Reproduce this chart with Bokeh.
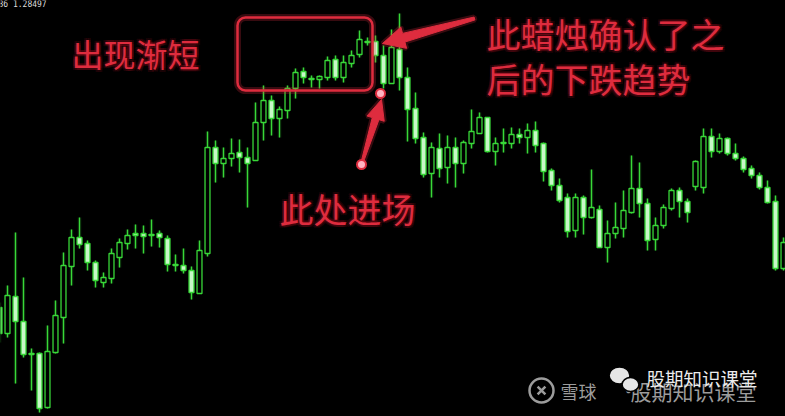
import numpy as np
from bokeh.plotting import figure
from bokeh.models import Range1d, BoxAnnotation
from bokeh.core.properties import value
from bokeh.embed import file_html
from bokeh.resources import INLINE

# ---- candle data (price points) ----
opens = [109, 83, 120, 95, 63, 63, 9, 64, 99, 150,
         179, 173, 154, 134, 138, 159, 173, 183, 183, 182,
         183, 178, 152, 151, 146, 123, 163, 269, 253, 258,
         264, 259, 256, 294, 316, 298, 306, 328, 345, 338,
         337, 339, 357, 339, 353, 362, 375, 375, 361, 333,
         367, 339, 308, 279, 243, 268, 249, 269, 253, 273,
         283, 299, 265, 274, 273, 282, 279, 286, 273, 246,
         231, 219, 186, 219, 199, 207, 169, 183, 188, 204,
         228, 213, 177, 191, 208, 226, 215, 230, 229, 280,
         265, 278, 263, 258, 248, 241, 229, 215, 148]
highs = [114, 131, 184, 139, 68, 64, 91, 116, 164, 187,
         199, 176, 156, 144, 168, 178, 187, 192, 191, 197,
         186, 181, 162, 168, 150, 176, 285, 276, 269, 278,
         277, 269, 314, 331, 321, 310, 331, 348, 349, 341,
         341, 360, 361, 361, 366, 386, 379, 381, 371, 387,
         403, 349, 324, 284, 274, 283, 281, 279, 276, 307,
         304, 299, 279, 288, 289, 288, 293, 295, 274, 248,
         238, 223, 223, 221, 247, 211, 196, 214, 226, 261,
         254, 218, 199, 212, 228, 229, 218, 256, 288, 288,
         283, 279, 273, 260, 251, 244, 236, 221, 179]
lows = [74, 79, 33, 59, 26, 4, 8, 63, 73, 131,
        168, 146, 129, 129, 133, 149, 167, 168, 163, 170,
        169, 145, 145, 143, 117, 123, 160, 234, 239, 250,
        244, 209, 256, 276, 281, 279, 298, 318, 333, 329,
        328, 336, 336, 334, 349, 359, 371, 354, 328, 333,
        326, 275, 273, 239, 219, 239, 233, 229, 243, 268,
        283, 264, 251, 264, 268, 273, 263, 264, 235, 226,
        214, 179, 179, 182, 198, 169, 154, 178, 179, 203,
        199, 166, 166, 188, 206, 199, 194, 226, 223, 259,
        263, 261, 256, 244, 238, 227, 213, 146, 146]
closes = [83, 121, 95, 62, 62, 8, 65, 101, 151, 179,
          172, 154, 136, 139, 163, 174, 181, 181, 180, 181,
          179, 152, 151, 146, 124, 166, 269, 253, 258, 263,
          259, 253, 294, 316, 298, 307, 328, 344, 339, 337,
          340, 356, 339, 354, 361, 377, 374, 361, 333, 369,
          339, 307, 278, 242, 269, 248, 269, 253, 274, 285,
          299, 265, 273, 273, 282, 279, 286, 271, 245, 231,
          216, 185, 219, 199, 209, 169, 183, 189, 206, 228,
          213, 176, 191, 209, 226, 215, 204, 255, 280, 265,
          278, 263, 258, 247, 241, 229, 214, 148, 174]
bars = list(range(len(opens)))

# ---- annotation texts ----
label_left = "出现渐短"
label_right = ["此蜡烛确认了之", "后的下跌趋势"]
label_entry = "此处进场"
wm_brand = "雪球"
wm_name = "股期知识课堂"
quote_text = "86 1.28497"

GREEN = "#38d838"
FILL = "#c8f7c8"
RED = "#de2c3e"
FONT = value("Noto Sans CJK SC")

p = figure(width=785, height=416, output_backend="svg", toolbar_location=None,
           x_range=Range1d(0.125, 98.25), y_range=Range1d(0, 416),
           x_axis_location=None, y_axis_location=None, min_border=0)
p.grid.visible = False
p.background_fill_color = "black"
p.border_fill_color = "black"
p.outline_line_color = None

try:
    from bokeh.models import GlobalInlineStyleSheet
    p.stylesheets = [GlobalInlineStyleSheet(css="html,body{background:#000;overflow:hidden;}")]
except Exception:
    pass

# candles
o = np.array(opens, float); c = np.array(closes, float)
top = np.maximum(o, c); bot = np.minimum(o, c)
top = np.where(top - bot < 1, bot + 1, top)
fills = ["black" if cc > oo else FILL for oo, cc in zip(opens, closes)]
p.segment(x0=bars, y0=lows, x1=bars, y1=highs, line_color=GREEN, line_width=3.5, line_alpha=0.18)
p.segment(x0=bars, y0=lows, x1=bars, y1=highs, line_color=GREEN, line_width=1.3)
p.vbar(x=bars, width=0.62, top=top, bottom=bot, fill_color=fills,
       line_color=GREEN, line_width=1.3)

# helpers: reference pixel -> data
def X(xr):
    return (xr + 1) / 8.0

def Y(yr):
    return 416 - yr

# rounded box
for lw, la in [(7, 0.25), (2.5, 1.0)]:
    p.add_layout(BoxAnnotation(left=X(237), right=X(372), top=Y(17), bottom=Y(90),
                               fill_alpha=0, line_color=RED, line_width=lw,
                               line_alpha=la, border_radius=8))

def arrow(tail, tip, w_tail, w_base, head_len, head_half):
    t = np.array(tail, float); h = np.array(tip, float)
    d = h - t; L = np.hypot(*d); u = d / L
    n = np.array([-u[1], u[0]])
    b = h - u * head_len
    pts = [t + n * w_tail / 2, b + n * w_base / 2, b + n * head_half, h,
           b - n * head_half, b - n * w_base / 2, t - n * w_tail / 2]
    xs = [X(q[0]) for q in pts]; ys = [Y(q[1]) for q in pts]
    p.patch(xs, ys, fill_color=None, line_color=RED, line_width=5, line_alpha=0.25)
    p.patch(xs, ys, fill_color=RED, line_color=RED, line_width=1)

arrow((474, 18), (382, 43), 3, 9, 22, 11)
arrow((361, 164), (381, 99), 2, 7, 20, 9)

# dots
p.scatter(x=[X(361), X(380)], y=[Y(164), Y(93)], size=[9, 9], marker="circle",
          fill_color="#ffb3c1", line_color=RED, line_width=2)

# red labels with a soft halo
HALO = [(dx, dy) for dx in (-2, 0, 2) for dy in (-2, 0, 2) if (dx, dy) != (0, 0)]

def red_text(xs, ys, texts, size):
    for dx, dy in HALO:
        p.text(x=xs, y=ys, text=texts, text_font=FONT, text_font_size=size,
               text_color="#a01020", text_alpha=0.16, x_offset=dx, y_offset=dy,
               text_align="left", text_baseline="middle")
    p.text(x=xs, y=ys, text=texts, text_font=FONT, text_font_size=size,
           text_color=RED, text_align="left", text_baseline="middle")

red_text([X(71)], [Y(52)], [label_left], "32px")
red_text([X(486), X(486)], [Y(33), Y(78)], label_right, "34px")
red_text([X(279)], [Y(208)], [label_entry], "34px")

# tiny quote text at the top-left corner
p.text(x=[X(-2)], y=[Y(-1)], text=[quote_text], text_font=value("DejaVu Sans Mono"),
       text_font_size="8px", text_color="#dddddd", text_align="left", text_baseline="top")

# watermark
WM = "#9c9c9c"
p.scatter(x=[X(541)], y=[Y(390)], size=24, marker="circle", fill_color=None,
          line_color=WM, line_width=2.5)
p.scatter(x=[X(541)], y=[Y(390)], size=11, marker="x", line_color=WM, line_width=2.5)
p.text(x=[X(560)], y=[Y(390)], text=[wm_brand], text_font=FONT, text_font_size="18px",
       text_color=WM, text_align="left", text_baseline="middle")
p.text(x=[X(618)], y=[Y(390)], text=["·"], text_font=FONT, text_font_size="20px",
       text_color=WM, text_align="left", text_baseline="middle")
p.text(x=[X(630)], y=[Y(390)], text=[wm_name], text_font=FONT, text_font_size="21px",
       text_color=WM, text_align="left", text_baseline="middle")
p.ellipse(x=[X(619), X(630)], y=[Y(375), Y(384)], width=[2.6, 2.1], height=[17, 14],
          fill_color="#e6e6e6", line_color="black", line_width=1.5)
p.text(x=[X(646)], y=[Y(377)], text=[wm_name], text_font=FONT, text_font_size="18.5px",
       text_color="#ececec", text_align="left", text_baseline="middle")

open("out.html", "w").write(file_html(p, INLINE))
